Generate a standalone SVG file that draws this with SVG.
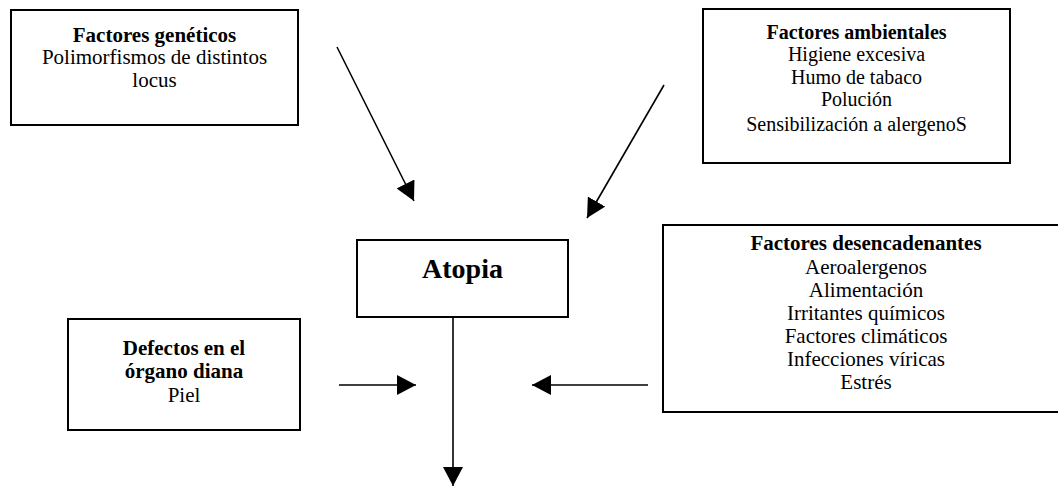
<svg xmlns="http://www.w3.org/2000/svg" width="1058" height="486" viewBox="0 0 1058 486">
  <style>
    .box { fill: #ffffff; stroke: #000000; stroke-width: 2; }
    .t { font-family: "Liberation Serif", "Times New Roman", serif; font-size: 21px; fill: #000000; text-anchor: middle; }
    .s { font-size: 20px; }
    .b { font-weight: bold; }
    .big { font-size: 28px; font-weight: bold; }
    .conn { stroke: #000000; stroke-width: 1.6; fill: none; marker-end: url(#arrow); }
  </style>
  <defs>
    <marker id="arrow" markerUnits="userSpaceOnUse" markerWidth="20" markerHeight="20" refX="19" refY="10" orient="auto">
      <path d="M0,0 L19,10 L0,20 z" fill="#000000"/>
    </marker>
  </defs>
  <rect width="1058" height="486" fill="#ffffff"/>

  <g id="geneticos">
    <rect class="box" x="11" y="10" width="287" height="115"/>
    <text class="t b" x="154.5" y="42">Factores genéticos</text>
    <text class="t" x="154.5" y="64">Polimorfismos de distintos</text>
    <text class="t" x="154.5" y="87">locus</text>
  </g>

  <g id="ambientales">
    <rect class="box" x="703" y="9" width="307" height="154"/>
    <text class="t s b" x="856.5" y="38.5">Factores ambientales</text>
    <text class="t s" x="856.5" y="61">Higiene excesiva</text>
    <text class="t s" x="856.5" y="83.5">Humo de tabaco</text>
    <text class="t s" x="856.5" y="106">Polución</text>
    <text class="t s" x="856.5" y="131">Sensibilización a alergenoS</text>
  </g>

  <g id="atopia">
    <rect class="box" x="357" y="240" width="211" height="77"/>
    <text class="t big" x="462.5" y="278">Atopia</text>
  </g>

  <g id="desencadenantes">
    <rect class="box" x="663" y="225" width="407" height="187"/>
    <text class="t b" x="866" y="250">Factores desencadenantes</text>
    <text class="t" x="866" y="273.5">Aeroalergenos</text>
    <text class="t" x="866" y="296.5">Alimentación</text>
    <text class="t" x="866" y="319.5">Irritantes químicos</text>
    <text class="t" x="866" y="342.5">Factores climáticos</text>
    <text class="t" x="866" y="365.5">Infecciones víricas</text>
    <text class="t" x="866" y="389">Estrés</text>
  </g>

  <g id="defectos">
    <rect class="box" x="68" y="319" width="232" height="111"/>
    <text class="t b" x="184" y="355">Defectos en el</text>
    <text class="t b" x="184" y="378">órgano diana</text>
    <text class="t" x="184" y="402">Piel</text>
  </g>

  <g id="connectors">
    <line class="conn" x1="337" y1="47" x2="414" y2="201"/>
    <line class="conn" x1="664" y1="85" x2="587" y2="218"/>
    <line class="conn" x1="339" y1="385" x2="416" y2="385"/>
    <line class="conn" x1="648" y1="385" x2="532" y2="385"/>
    <line class="conn" x1="453" y1="317" x2="453" y2="486"/>
  </g>
</svg>
